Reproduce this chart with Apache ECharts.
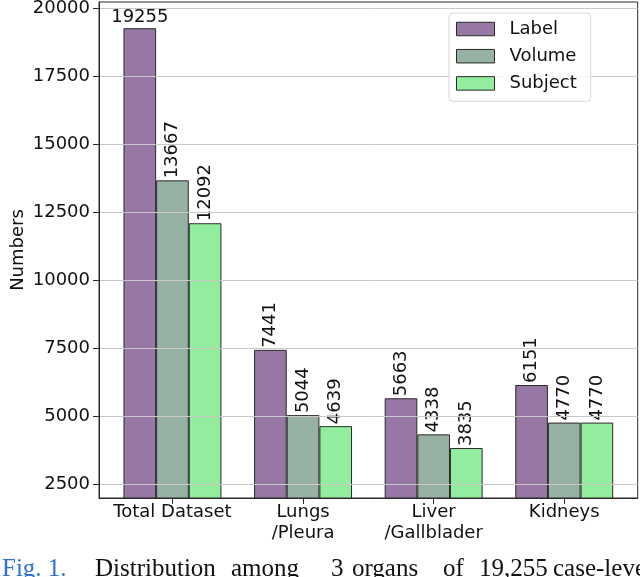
<!DOCTYPE html>
<html>
<head>
<meta charset="utf-8">
<script src="https://cdn.jsdelivr.net/npm/echarts@6/dist/echarts.min.js"></script>
<style>
html,body{margin:0;padding:0;background:#fff;}
#chart{width:640px;height:577px;}
</style>
</head>
<body>
<div id="chart"></div>
<script>
// ---- data ----
const categories = ['Total Dataset', 'Lungs\n/Pleura', 'Liver\n/Gallblader', 'Kidneys'];
const seriesNames = ['Label', 'Volume', 'Subject'];
const labelCounts = [19255, 7441, 5663, 6151];
const volumeCounts = [13667, 5044, 4338, 4770];
const subjectCounts = [12092, 4639, 3835, 4770];
const yTicks = [2500, 5000, 7500, 10000, 12500, 15000, 17500, 20000];
const yAxisTitle = 'Numbers';
const captionWords = ['Distribution', 'among', '3', 'organs', 'of', '19,255', 'case-level'];

// ---- layout / style ----
const FONT = 'DejaVu Sans';
const colors = ['#9677a6', '#97b2a3', '#93ed9f'];
const gridLeft = 99, gridRight = 2.3, gridTop = 2, gridBottom = 79;
const xMin = -0.5625, xMax = 3.5625;
const barFrac = 0.25;
const plotW = 640 - gridLeft - gridRight;
const barPx = barFrac * plotW / (xMax - xMin);
const offsets = [-barFrac, 0, barFrac];
const allCounts = [labelCounts, volumeCounts, subjectCounts];

const rotLabel = {
  show: true, position: 'top', distance: 2, rotate: 90,
  align: 'left', verticalAlign: 'middle',
  fontFamily: FONT, fontSize: 18, color: '#111',
  formatter: p => String(p.value[1])
};

const series = seriesNames.map((name, s) => ({
  name: name,
  type: 'bar',
  barWidth: barPx,
  barGap: '-100%',
  itemStyle: { color: colors[s], borderColor: '#2a2a2a', borderWidth: 1 },
  label: rotLabel,
  data: allCounts[s].map((v, i) => {
    const d = { value: [i + offsets[s], v] };
    if (s === 0 && i === 0) {
      d.label = { rotate: 0, align: 'center', verticalAlign: 'bottom', distance: 2 };
    }
    return d;
  })
}));

const caption = [
  { type: 'text', x: 2, y: 569, style: { text: 'Fig. 1.', font: '25px "Liberation Serif"', fill: '#2f6fd0', verticalAlign: 'middle' } }
];
const wordX = [95, 231, 331, 352, 443, 479, 553];
captionWords.forEach((w, i) => {
  caption.push({ type: 'text', x: wordX[i], y: 569, style: { text: w, font: '25px "Liberation Serif"', fill: '#111', verticalAlign: 'middle' } });
});

const chart = echarts.init(document.getElementById('chart'), null, { renderer: 'canvas' });
chart.setOption({
  animation: false,
  backgroundColor: '#fff',
  textStyle: { fontFamily: FONT },
  grid: {
    left: gridLeft, right: gridRight, top: gridTop, bottom: gridBottom,
    outerBoundsMode: 'none', containLabel: false,
    show: true, borderColor: '#2a2a2a', borderWidth: 1, backgroundColor: 'transparent'
  },
  legend: {
    orient: 'vertical', left: 449, top: 13,
    data: seriesNames,
    icon: 'rect', itemWidth: 38, itemHeight: 13.5, itemGap: 9.2,
    padding: [7, 14, 9, 7],
    backgroundColor: 'rgba(255,255,255,0.8)',
    borderColor: '#d8d8d8', borderWidth: 1, borderRadius: 4,
    itemStyle: { borderColor: '#2a2a2a', borderWidth: 1 },
    textStyle: { fontFamily: FONT, fontSize: 18, color: '#111', padding: [0, 0, 0, 10] },
    z: 20
  },
  xAxis: {
    type: 'value', min: xMin, max: xMax,
    axisLine: { show: true, onZero: false, lineStyle: { color: '#2a2a2a', width: 1 } },
    axisTick: { show: true, length: 6, customValues: [0, 1, 2, 3], lineStyle: { color: '#2a2a2a' } },
    axisLabel: {
      customValues: [0, 1, 2, 3], margin: 4,
      fontFamily: FONT, fontSize: 18, color: '#111', lineHeight: 21,
      formatter: v => categories[Math.round(v)]
    },
    splitLine: { show: false }
  },
  yAxis: {
    type: 'value', min: 2000, max: 20218,
    z: 5,
    name: yAxisTitle, nameLocation: 'middle', nameGap: 72, nameMoveOverlap: false,
    nameTextStyle: { fontFamily: FONT, fontSize: 18, color: '#111' },
    axisLine: { show: true, onZero: false, lineStyle: { color: '#2a2a2a', width: 1 } },
    axisTick: { show: true, length: 6, customValues: yTicks, lineStyle: { color: '#2a2a2a' } },
    axisLabel: { customValues: yTicks, margin: 9, fontFamily: FONT, fontSize: 18, color: '#111', formatter: v => String(v) },
    splitLine: { show: true, lineStyle: { color: '#c8c8c8', width: 1 } }
  },
  graphic: caption,
  series: series
});
</script>
</body>
</html>
